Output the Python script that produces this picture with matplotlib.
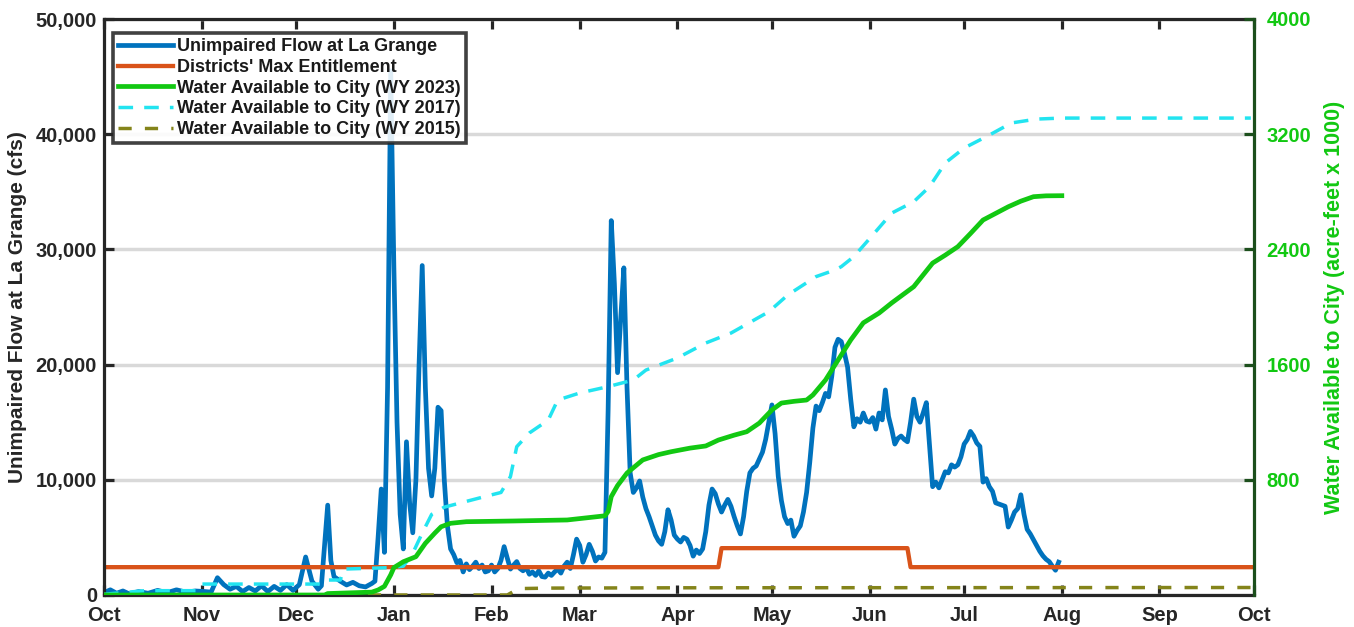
import numpy as np
import matplotlib
matplotlib.use('Agg')
import matplotlib.pyplot as plt
from matplotlib.ticker import FuncFormatter

plt.rcParams['font.family'] = ['Liberation Sans', 'DejaVu Sans']
plt.rcParams['font.weight'] = 'bold'

# ---- data (water year 2023 calendar, Oct 2022 - Sep 2023) ----
flow_days = [
    '10-01', '10-03', '10-05', '10-07', '10-09', '10-12', '10-15', '10-18', '10-21', '10-24', '10-27', '10-30',
    '11-02', '11-04', '11-06', '11-08', '11-10', '11-12', '11-14', '11-16', '11-18', '11-20', '11-22', '11-24',
    '11-26', '11-28', '11-30',
    '12-02', '12-04', '12-06', '12-08', '12-09', '12-11', '12-12', '12-13', '12-15', '12-17', '12-19', '12-21',
    '12-23', '12-25', '12-26', '12-27', '12-28', '12-29', '12-30', '12-31',
    '01-01', '01-02', '01-03', '01-04', '01-05', '01-06', '01-07', '01-08', '01-09', '01-10', '01-11', '01-12',
    '01-13', '01-14', '01-15', '01-16', '01-17', '01-18', '01-19', '01-20', '01-21', '01-22', '01-23', '01-24',
    '01-25', '01-26', '01-27', '01-28', '01-29', '01-30', '01-31',
    '02-01', '02-02', '02-03', '02-04', '02-05', '02-06', '02-07', '02-08', '02-09', '02-10', '02-11', '02-12',
    '02-13', '02-14', '02-15', '02-16', '02-17', '02-18', '02-19', '02-20', '02-21', '02-22', '02-23', '02-24',
    '02-25', '02-26', '02-27', '02-28',
    '03-01', '03-02', '03-03', '03-04', '03-05', '03-06', '03-07', '03-08', '03-09', '03-10', '03-11', '03-12',
    '03-13', '03-14', '03-15', '03-16', '03-17', '03-18', '03-19', '03-20', '03-21', '03-22', '03-23', '03-24',
    '03-25', '03-26', '03-27', '03-28', '03-29', '03-30', '03-31',
    '04-01', '04-02', '04-03', '04-04', '04-05', '04-06', '04-07', '04-08', '04-09', '04-10', '04-11', '04-12',
    '04-13', '04-14', '04-15', '04-16', '04-17', '04-18', '04-19', '04-20', '04-21', '04-22', '04-23', '04-24',
    '04-25', '04-26', '04-27', '04-28', '04-29', '04-30',
    '05-01', '05-02', '05-03', '05-04', '05-05', '05-06', '05-07', '05-08', '05-09', '05-10', '05-11', '05-12',
    '05-13', '05-14', '05-15', '05-16', '05-17', '05-18', '05-19', '05-20', '05-21', '05-22', '05-23', '05-24',
    '05-25', '05-26', '05-27', '05-28', '05-29', '05-30', '05-31',
    '06-01', '06-02', '06-03', '06-04', '06-05', '06-06', '06-07', '06-08', '06-09', '06-10', '06-11', '06-12',
    '06-13', '06-14', '06-15', '06-16', '06-17', '06-18', '06-19', '06-20', '06-21', '06-22', '06-23', '06-24',
    '06-25', '06-26', '06-27', '06-28', '06-29', '06-30',
    '07-01', '07-02', '07-03', '07-04', '07-05', '07-06', '07-07', '07-08', '07-09', '07-10', '07-11', '07-12',
    '07-13', '07-14', '07-15', '07-16', '07-17', '07-18', '07-19', '07-20', '07-21', '07-22', '07-23', '07-24',
    '07-25', '07-26', '07-27', '07-28', '07-29', '07-30', '07-31',
]
flow_cfs = [
    200, 450, 150, 350, 100, 300, 150, 400, 200, 450, 250, 350,
    300, 250, 1500, 900, 500, 750, 300, 650, 350, 800, 300, 750,
    400, 900, 400,
    900, 3300, 1200, 500, 800, 7800, 3000, 1600, 1200, 870, 1100, 800,
    700, 1000, 1200, 5000, 9200, 3700, 18000, 45500,
    28500, 15000, 7000, 4000, 13300, 8000, 5400, 10000, 20000, 28600, 18000, 11000,
    8600, 11000, 16300, 16000, 10000, 6000, 4000, 3500, 2800, 3000, 2000, 2700,
    2200, 2500, 2850, 2300, 2600, 2000, 2100,
    2600, 2000, 2300, 3000, 4200, 3200, 2250, 2600, 2900, 2300, 2100, 2400,
    1800, 2000, 1700, 2100, 1600, 1550, 1900, 1700, 2000, 2250, 1900, 2500,
    2850, 2300, 3500, 4850,
    4300, 2850, 3500, 4400, 3800, 2950, 3300, 3200, 3700, 16000, 32500, 27000,
    19300, 24000, 28400, 18000, 10600, 8900, 9300, 9900, 8500, 7500, 6800, 6000,
    5200, 4700, 4400, 5500, 7400, 6500, 5200,
    4850, 4600, 5000, 4850, 4300, 3370, 3900, 3600, 4000, 5500, 7800, 9200,
    8800, 7900, 7200, 7800, 8300, 7700, 6800, 6000, 5300, 6800, 9000, 10600,
    11000, 11200, 11800, 12400, 13500, 15000,
    16500, 14000, 10300, 8200, 6800, 6200, 6500, 5100, 5600, 6000, 7200, 8900,
    11500, 14500, 16400, 16000, 16700, 17500, 17200, 19000, 21500, 22200, 22000, 21000,
    19800, 17000, 14600, 15300, 15000, 15800, 15100,
    15000, 15400, 14400, 15800, 15200, 17800, 15500, 14400, 13100, 13600, 13800, 13500,
    13300, 15000, 17000, 15500, 15000, 15800, 16700, 13000, 9400, 9800, 9300, 10000,
    10700, 10600, 11300, 11100, 11300, 12000,
    13100, 13500, 14200, 13800, 13200, 12900, 9800, 10100, 9400, 9000, 8000, 7900,
    7800, 7700, 5900, 6500, 7200, 7500, 8700, 7000, 5700, 5300, 4800, 4300,
    3800, 3400, 3100, 2900, 2500, 2150, 2850,
]

entitle_days = ['10-01', '04-14', '04-15', '06-13', '06-14', '09-30']
entitle_cfs = [2416, 2416, 4066, 4066, 2416, 2416]

wy2023_days = ['10-01', '12-10', '12-11', '12-25', '12-27', '12-29', '12-31', '01-01', '01-04', '01-08',
               '01-11', '01-14', '01-16', '01-19', '01-24', '02-08', '02-25', '03-09', '03-10', '03-11',
               '03-13', '03-16', '03-21', '03-26', '03-30', '04-05', '04-10', '04-14', '04-19', '04-23',
               '04-27', '05-01', '05-04', '05-08', '05-12', '05-14', '05-18', '05-22', '05-26', '05-30',
               '06-04', '06-08', '06-15', '06-21', '06-25', '06-29', '07-03', '07-07', '07-11', '07-15',
               '07-19', '07-23', '07-27', '08-01']
wy2023_kaf = [0, 0, 10, 20, 35, 60, 140, 190, 231, 266,
              359, 430, 474, 498, 509, 514, 521, 550, 580, 683,
              760, 847, 938, 975, 995, 1020, 1035, 1076, 1110, 1134,
              1194, 1285, 1333, 1345, 1354, 1389, 1493, 1632, 1771, 1890,
              1958, 2028, 2141, 2305, 2360, 2419, 2510, 2604, 2650, 2696,
              2735, 2766, 2772, 2773]

wy2017_days = ['10-01', '10-14', '10-31', '11-01', '12-09', '12-10', '12-15', '12-16', '12-31', '01-04',
               '01-07', '01-10', '01-13', '01-17', '01-24', '01-31', '02-04', '02-07', '02-09', '02-13',
               '02-19', '02-22', '03-01', '03-10', '03-18', '03-22', '04-01', '04-10', '04-18', '04-30',
               '05-06', '05-15', '05-21', '05-23', '05-27', '06-02', '06-08', '06-15', '06-20', '06-25',
               '07-01', '07-09', '07-16', '07-24', '08-01', '09-30']
wy2017_kaf = [5, 30, 30, 76, 76, 104, 104, 180, 190, 200,
              290, 430, 560, 610, 650, 690, 712, 822, 1030, 1125,
              1215, 1354, 1403, 1447, 1493, 1562, 1646, 1750, 1819, 1967,
              2083, 2211, 2257, 2280, 2350, 2500, 2652, 2731, 2835, 3000,
              3104, 3194, 3278, 3305, 3312, 3312]

wy2015_days = ['10-01', '02-06', '02-08', '02-11', '02-20', '03-31', '09-30']
wy2015_kaf = [0, 0, 25, 45, 48, 50, 52]

months = ['Oct', 'Nov', 'Dec', 'Jan', 'Feb', 'Mar', 'Apr', 'May', 'Jun', 'Jul', 'Aug', 'Sep', 'Oct']


def wy_dates(days):
    out = []
    for s in days:
        yr = 2022 if int(s[:2]) >= 10 else 2023
        out.append(np.datetime64(f'{yr}-{s}'))
    return np.array(out)


C_BLUE = '#0072BD'
C_ORANGE = '#D95319'
C_GREEN = '#12C812'
C_CYAN = '#22E4F0'
C_OLIVE = '#84841A'
C_AX = '#262626'
C_DKGREEN = '#1c4f1c'

fig = plt.figure(figsize=(13.54, 6.27), dpi=100)
ax = fig.add_axes([104 / 1354, 1 - 595 / 627, 1150 / 1354, 576 / 627])
ax2 = ax.twinx()

l1, = ax.plot(wy_dates(flow_days), flow_cfs, color=C_BLUE, lw=3.4, solid_joinstyle='round')
l2, = ax.plot(wy_dates(entitle_days), entitle_cfs, color=C_ORANGE, lw=3.1)
l4, = ax2.plot(wy_dates(wy2017_days), wy2017_kaf, color=C_CYAN, lw=2.5, dashes=(4.2, 3.2))
l5, = ax2.plot(wy_dates(wy2015_days), wy2015_kaf, color=C_OLIVE, lw=2.5, dashes=(3.8, 3.8))
l3, = ax2.plot(wy_dates(wy2023_days), wy2023_kaf, color=C_GREEN, lw=3.4)

ax.set_xlim(np.datetime64('2022-10-01'), np.datetime64('2023-10-01'))
ax.set_ylim(0, 50000)
ax2.set_ylim(0, 4000)

tick_dates = np.arange(np.datetime64('2022-10'), np.datetime64('2023-11'),
                       np.timedelta64(1, 'M')).astype('datetime64[D]')
ax.set_xticks(tick_dates)
ax.set_xticklabels(months)
ax.set_yticks(range(0, 50001, 10000))
ax.yaxis.set_major_formatter(FuncFormatter(lambda v, p: f'{v:,.0f}'))
ax2.set_yticks(range(800, 4001, 800))

ax.yaxis.grid(True, color='#d9d9d9', lw=2.5)
ax.set_axisbelow(True)

ax.tick_params(direction='in', length=7, width=2.3, color=C_AX, labelsize=14.5, labelcolor=C_AX, top=True)
ax.tick_params(axis='y', right=False, pad=5)
ax.tick_params(axis='x', pad=8)
ax2.tick_params(axis='y', direction='in', length=7, width=2.3, color=C_DKGREEN, labelsize=14.5,
                labelcolor=C_GREEN, pad=9)
for lab in ax.get_xticklabels() + ax.get_yticklabels() + ax2.get_yticklabels():
    lab.set_fontweight('bold')

for name in ['left', 'top', 'bottom']:
    ax.spines[name].set_linewidth(2.3)
    ax.spines[name].set_color(C_AX)
    ax2.spines[name].set_visible(False)
ax.spines['right'].set_visible(False)
ax2.spines['right'].set_linewidth(2.3)
ax2.spines['right'].set_color(C_DKGREEN)

ax.set_ylabel('Unimpaired Flow at La Grange (cfs)', fontsize=15, fontweight='bold', color=C_AX, labelpad=6)
ax2.set_ylabel('Water Available to City (acre-feet x 1000)', fontsize=15.5, fontweight='bold',
               color=C_GREEN, labelpad=9)

leg = ax2.legend([l1, l2, l3, l4, l5],
                 ['Unimpaired Flow at La Grange', "Districts' Max Entitlement",
                  'Water Available to City (WY 2023)', 'Water Available to City (WY 2017)',
                  'Water Available to City (WY 2015)'],
                 loc='upper left', bbox_to_anchor=(0.0078, 0.9757), borderaxespad=0,
                 fontsize=13, handlelength=3.0, handletextpad=0.25, labelspacing=0.2,
                 borderpad=0.3, fancybox=False, framealpha=0.88, edgecolor=C_AX)
leg.get_frame().set_linewidth(2.6)
for t in leg.get_texts():
    t.set_fontweight('bold')
    t.set_color('#1a1a1a')

fig.savefig('out.png', dpi=100)
